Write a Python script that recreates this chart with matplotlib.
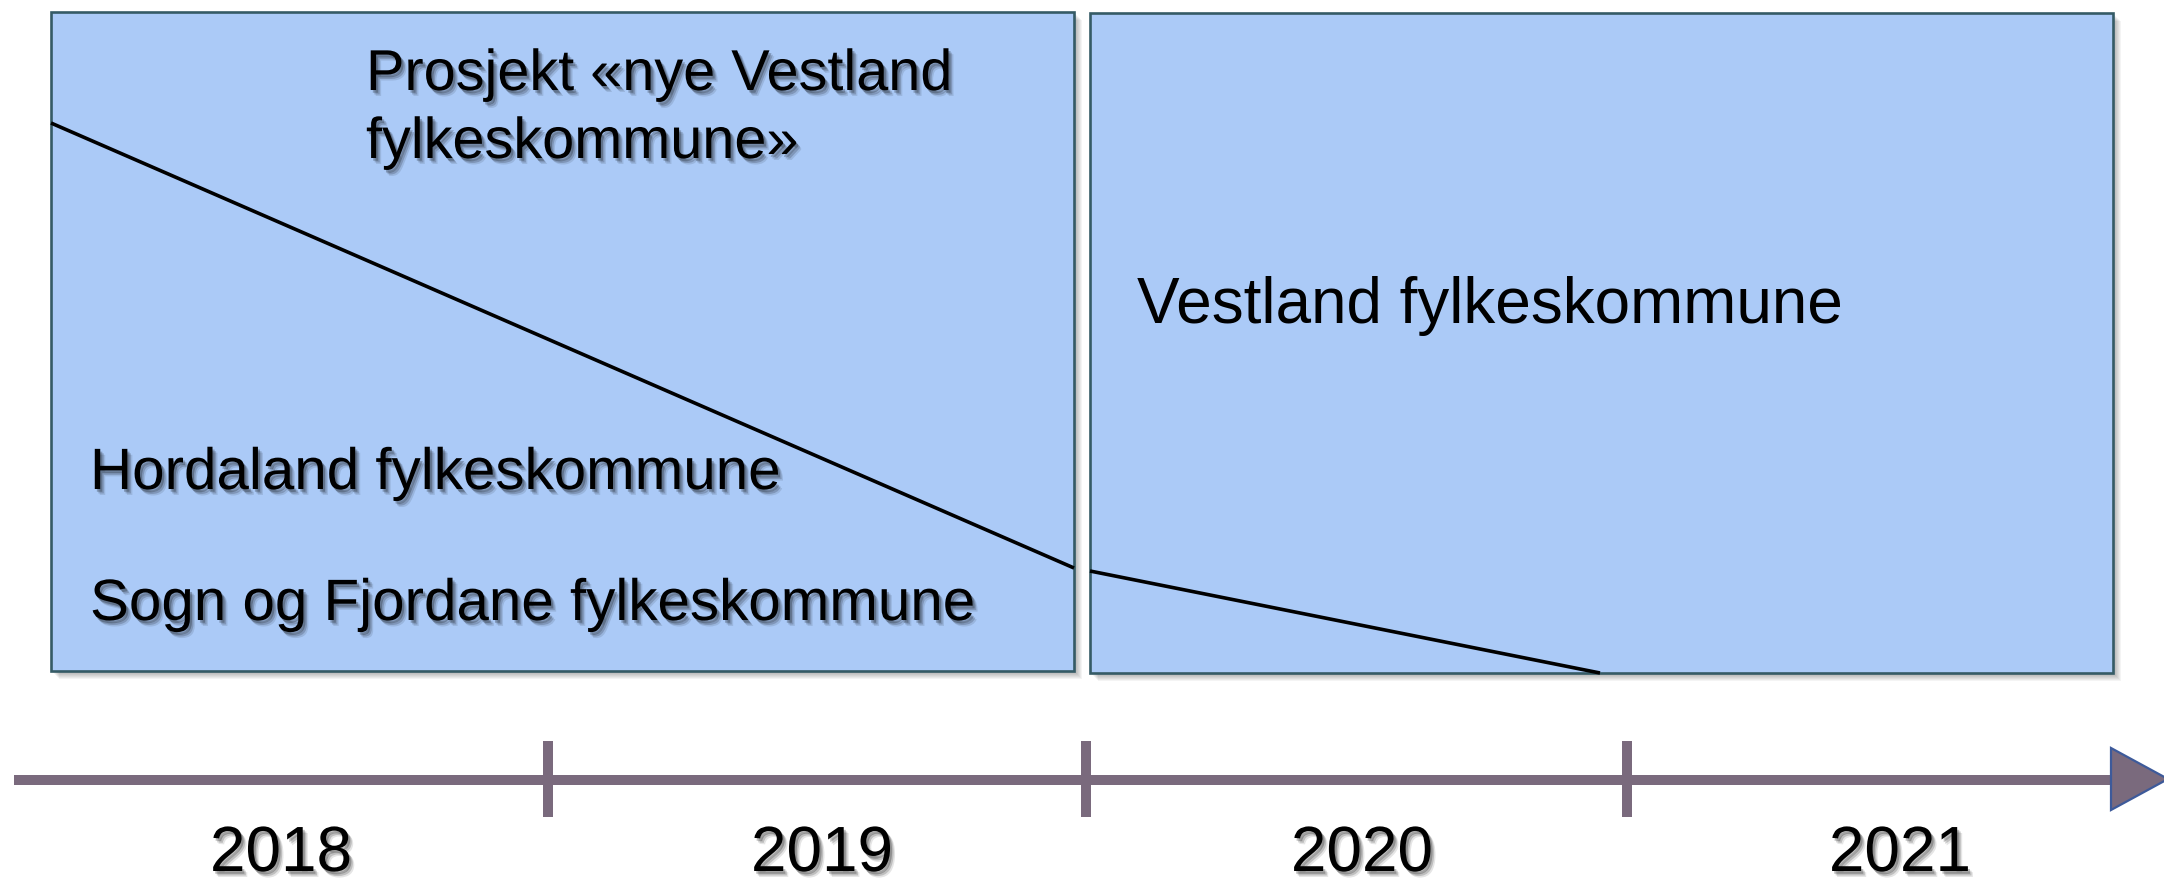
import matplotlib
matplotlib.use("Agg")
import matplotlib.pyplot as plt
from matplotlib.patches import Rectangle, Polygon
import matplotlib.patheffects as pe

plt.rcParams['font.family'] = ['Liberation Sans', 'DejaVu Sans']

# ---- canvas (pixel coordinates) ----
W, H = 2164, 884

# ---- timeline ----
years = ['2018', '2019', '2020', '2021']
year_x = [281, 822, 1362, 1900]
year_baseline = 871
tick_x = [548, 1086, 1627]
tick_top, tick_bottom = 741, 817
axis_y = 780
axis_start, axis_end = 14, 2111
arrow_x = [2111, 2111, 2168]
arrow_y = [748, 810, 779]

# ---- phase boxes ----
box_x0 = [51, 1090]
box_x1 = [1074, 2113]
box_y0 = [12, 13]
box_y1 = [671, 673]

# ---- transition lines ----
trend_x = [[51, 1074], [1090, 1600]]
trend_y = [[123, 568], [571, 673]]

# ---- labels ----
label_text = ['Prosjekt «nye Vestland', 'fylkeskommune»',
              'Hordaland fylkeskommune', 'Sogn og Fjordane fylkeskommune',
              'Vestland fylkeskommune']
label_x = [366, 366, 90, 90, 1137]
label_base = [90, 158, 489, 620, 323]
label_size = [41.5, 41.5, 42, 42, 46]
label_shadow = [True, True, True, True, False]

BOX_FILL = '#abcaf7'
BOX_EDGE = '#355b66'
AXIS_COL = '#7a6a7d'
ARROW_EDGE = '#3d5a9a'

fig = plt.figure(figsize=(W / 100, H / 100), dpi=100)
ax = fig.add_axes([0, 0, 1, 1])
ax.set_xlim(0, W)
ax.set_ylim(H, 0)
ax.axis('off')

text_shadow = [pe.SimplePatchShadow(offset=(1.5, -2.0), shadow_rgbFace='black', alpha=0.24),
               pe.SimplePatchShadow(offset=(2.6, -3.2), shadow_rgbFace='black', alpha=0.17),
               pe.SimplePatchShadow(offset=(3.6, -4.3), shadow_rgbFace='black', alpha=0.10),
               pe.Normal()]

# boxes with soft shadow
for x0, x1, y0, y1 in zip(box_x0, box_x1, box_y0, box_y1):
    for k in range(1, 9):
        ax.add_patch(Rectangle((x0 + k, y0 + k), x1 - x0, y1 - y0,
                               facecolor='black', edgecolor='none',
                               alpha=0.045, zorder=1))
    ax.add_patch(Rectangle((x0, y0), x1 - x0, y1 - y0, facecolor=BOX_FILL,
                           edgecolor=BOX_EDGE, linewidth=1.9, zorder=2))

# transition lines
for xs, ys in zip(trend_x, trend_y):
    ax.plot(xs, ys, color='black', linewidth=2.6, solid_capstyle='butt', zorder=3)

# labels
for t, x, y, s, sh in zip(label_text, label_x, label_base, label_size, label_shadow):
    ax.text(x, y, t, fontsize=s, ha='left', va='baseline', color='black', zorder=4,
            path_effects=text_shadow if sh else None)

# timeline axis
ax.plot([axis_start, axis_end], [axis_y, axis_y], color=AXIS_COL, linewidth=7.2,
        solid_capstyle='butt', zorder=3)
for tx in tick_x:
    ax.plot([tx, tx], [tick_top, tick_bottom], color=AXIS_COL, linewidth=7.2,
            solid_capstyle='butt', zorder=3)
ax.add_patch(Polygon(list(zip(arrow_x, arrow_y)), closed=True, facecolor=AXIS_COL,
                     edgecolor=ARROW_EDGE, linewidth=1.6, zorder=4))

for yl, xl in zip(years, year_x):
    ax.text(xl, year_baseline, yl, fontsize=46, ha='center', va='baseline',
            color='black', zorder=4, path_effects=text_shadow)

fig.savefig('out.png', dpi=100, facecolor='white')
